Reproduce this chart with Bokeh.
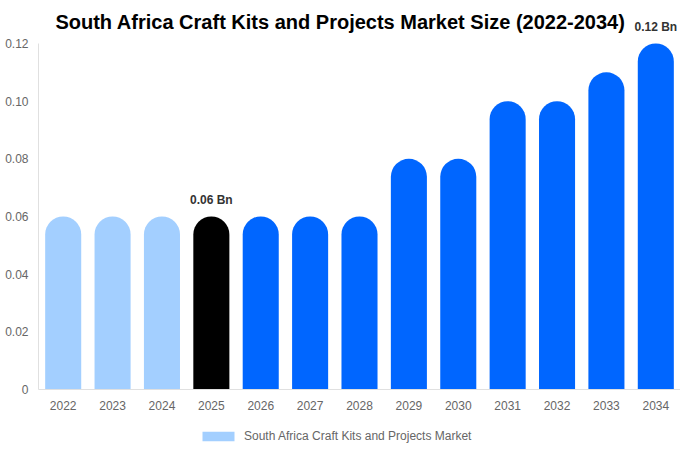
from bokeh.plotting import figure
from bokeh.layouts import column
from bokeh.models import ColumnDataSource, LabelSet, Label, Legend, LegendItem, FixedTicker, NumeralTickFormatter, Range1d, FactorRange
from bokeh.core.properties import value
from bokeh.embed import file_html
from bokeh.resources import INLINE

years = ["2022", "2023", "2024", "2025", "2026", "2027", "2028", "2029", "2030", "2031", "2032", "2033", "2034"]
values = [0.06, 0.06, 0.06, 0.06, 0.06, 0.06, 0.06, 0.08, 0.08, 0.10, 0.10, 0.11, 0.12]
colors = ["#a3cfff"] * 3 + ["#000000"] + ["#0066ff"] * 9
label_years = ["2025", "2034"]
label_values = [0.06, 0.12]
label_texts = ["0.06 Bn", "0.12 Bn"]
y_ticks = [0, 0.02, 0.04, 0.06, 0.08, 0.10, 0.12]
series_name = "South Africa Craft Kits and Projects Market"
title_text = "South Africa Craft Kits and Projects Market Size (2022-2034)"

src = ColumnDataSource(dict(x=years, top=values, color=colors))
lsrc = ColumnDataSource(dict(x=label_years, y=label_values, text=label_texts))

p = figure(width=680, height=420, x_range=FactorRange(*years, range_padding=0),
           y_range=Range1d(0, 0.1349), output_backend="svg", toolbar_location=None,
           min_border_left=38, min_border_right=0, min_border_top=0, min_border_bottom=31)

title = Label(x=302, y=368, x_units="screen", y_units="screen", text=title_text,
              text_align="center", text_baseline="middle",
              text_font="Liberation Sans", text_font_size="20px",
              text_font_style="bold", text_color="#000000")

r = p.vbar(x="x", top="top", bottom=0, width=0.73, fill_color="color", line_color=None,
           source=src, border_radius=(18, 18, 0, 0))

labels = LabelSet(x="x", y="y", text="text", source=lsrc, text_align="center",
                  text_baseline="middle", y_offset=16, text_font=value("Liberation Sans"),
                  text_font_size="12px", text_font_style="bold", text_color="#333333")
p.add_layout(labels)
p.add_layout(title)

p.xgrid.visible = False
p.ygrid.visible = False
p.outline_line_color = None

for ax in (p.xaxis[0], p.yaxis[0]):
    ax.axis_line_color = "#e0e0e0"
    ax.major_tick_line_color = None
    ax.minor_tick_line_color = None
    ax.major_tick_out = 0
    ax.major_label_text_font = "Liberation Sans"
    ax.major_label_text_font_size = "12px"
    ax.major_label_text_color = "#666666"
p.yaxis[0].ticker = FixedTicker(ticks=y_ticks)
p.yaxis[0].bounds = (0, 0.12)
p.yaxis[0].formatter = NumeralTickFormatter(format="0.00")
p.yaxis[0].major_label_overrides = {0: "0"}
p.yaxis[0].major_label_standoff = 10
p.xaxis[0].major_label_standoff = 11

# legend strip below the chart
p2 = figure(width=680, height=30, x_range=p.x_range, y_range=Range1d(1, 2),
            output_backend="svg", toolbar_location=None,
            min_border_left=0, min_border_right=0, min_border_top=0, min_border_bottom=0)
r2 = p2.vbar(x="x", top="top", bottom=0, width=0.73, fill_color="color", line_color=None, source=src)
p2.axis.visible = False
p2.xgrid.visible = False
p2.ygrid.visible = False
p2.outline_line_color = None

legend = Legend(items=[LegendItem(label=series_name, renderers=[r2], index=0)],
                location=(160, 7), orientation="horizontal", border_line_color=None,
                background_fill_alpha=0,
                glyph_width=40, glyph_height=12, label_text_font="Liberation Sans",
                label_text_font_size="12px", label_text_color="#666666",
                padding=2, margin=0, label_standoff=6)
p2.add_layout(legend)

layout = column(p, p2, spacing=0)
open("out.html", "w").write(file_html(layout, INLINE))
